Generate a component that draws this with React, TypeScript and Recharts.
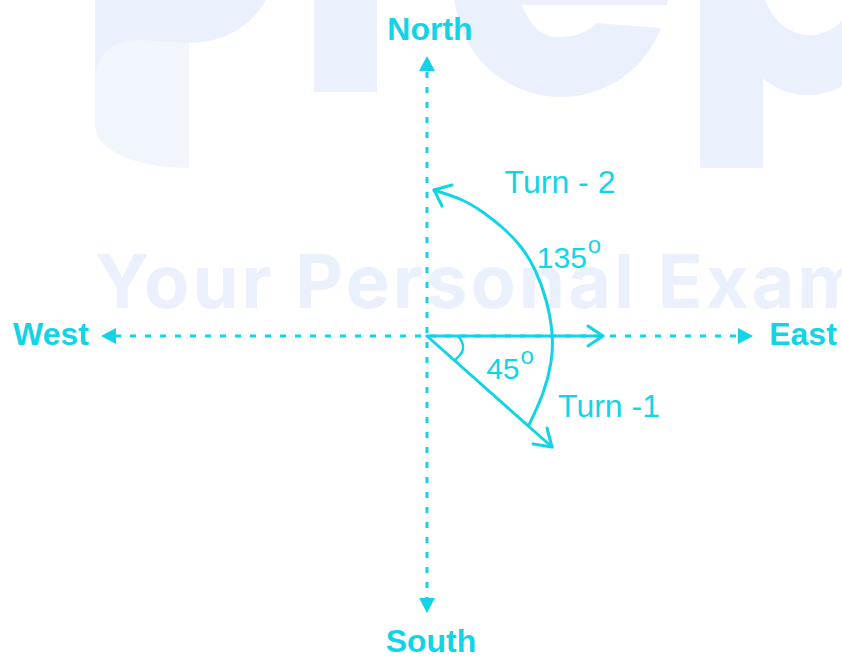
import { ComposedChart, Line, Scatter, XAxis, YAxis } from "recharts";

const W = 842;
const H = 658;
const CYAN = "#13D4E7";
const PALE = "#EAF1FC";
const PALER = "#F1F6FD";

// compass axes (dashed) and their filled arrow tips
const northSouth = [
  { x: 427, y: 72 },
  { x: 427, y: 598 },
];
const westEast = [
  { x: 115, y: 336 },
  { x: 738, y: 336 },
];
const compassTips = [
  { x: 427, y: 56, dir: "up" },
  { x: 427, y: 613, dir: "down" },
  { x: 101, y: 336, dir: "left" },
  { x: 753, y: 336, dir: "right" },
];
const compassLabels = [
  { x: 430, y: 40, text: "North" },
  { x: 431, y: 652, text: "South" },
  { x: 51, y: 345, text: "West" },
  { x: 803, y: 345, text: "East" },
];

// starting ray towards east
const eastRay = [
  { x: 427, y: 336 },
  { x: 603, y: 336 },
];
const eastHead = [
  { x: 588, y: 326 },
  { x: 603, y: 336 },
  { x: 588, y: 346 },
];

// turn 1: 45 degrees clockwise
const turn1Ray = [
  { x: 427, y: 336 },
  { x: 552, y: 447 },
];
const turn1Head = [
  { x: 533, y: 444 },
  { x: 552, y: 447 },
  { x: 547, y: 428 },
];
const angleMark = [
  { x: 458, y: 336 },
  { x: 462, y: 342 },
  { x: 463, y: 349 },
  { x: 460, y: 355 },
  { x: 455, y: 360 },
];

// turn 2: 135 degrees anticlockwise
const turn2Arc = [
  { x: 434, y: 190 },
  { x: 462, y: 200 },
  { x: 484, y: 213 },
  { x: 504, y: 229 },
  { x: 521, y: 247 },
  { x: 535, y: 270 },
  { x: 546, y: 300 },
  { x: 552, y: 333 },
  { x: 551, y: 362 },
  { x: 543, y: 393 },
  { x: 529, y: 425 },
];
const turn2Head = [
  { x: 452, y: 185 },
  { x: 434, y: 190 },
  { x: 442, y: 206 },
];

const turnLabels = [
  { x: 560, y: 193, text: "Turn - 2" },
  { x: 609, y: 417, text: "Turn -1" },
];
const angleLabels = [
  { x: 569, y: 268, text: "135" },
  { x: 510, y: 379, text: "45" },
];

const FONT = "'Liberation Sans', Arial, sans-serif";

const Tip = (props: any) => {
  const { cx, cy, payload } = props;
  const len = 15;
  const half = 8;
  let pts = "";
  if (payload.dir === "up") pts = `${cx},${cy} ${cx - half},${cy + len} ${cx + half},${cy + len}`;
  if (payload.dir === "down") pts = `${cx},${cy} ${cx - half},${cy - len} ${cx + half},${cy - len}`;
  if (payload.dir === "left") pts = `${cx},${cy} ${cx + len},${cy - half} ${cx + len},${cy + half}`;
  if (payload.dir === "right") pts = `${cx},${cy} ${cx - len},${cy - half} ${cx - len},${cy + half}`;
  return <polygon points={pts} fill={CYAN} />;
};

const DirectionText = (props: any) => (
  <text x={props.cx} y={props.cy} textAnchor="middle" fontFamily={FONT} fontWeight={700} fontSize={32} fill={CYAN}>
    {props.payload.text}
  </text>
);

const TurnText = (props: any) => (
  <text x={props.cx} y={props.cy} textAnchor="middle" fontFamily={FONT} fontSize={32} fill={CYAN}>
    {props.payload.text}
  </text>
);

const AngleText = (props: any) => (
  <text x={props.cx} y={props.cy} textAnchor="middle" fontFamily={FONT} fontSize={30} fill={CYAN}>
    {props.payload.text}
    <tspan fontSize={24} dx={1} dy={-15}>o</tspan>
  </text>
);

const Watermark = () => (
  <svg width={W} height={H} style={{ position: "absolute", left: 0, top: 0 }}>
    {/* P */}
    <path d="M95 0 L189 0 L189 168 C135 168 95 150 95 125 Z" fill={PALER} />
    <path d="M95 0 L266 0 C250 28 222 43 189 43 L140 40 C112 40 95 55 95 80 Z" fill={PALE} />
    {/* r */}
    <rect x={314} y={0} width={63} height={92} fill={PALE} />
    {/* e */}
    <ellipse cx={561} cy={-10} rx={107} ry={107} fill={PALE} />
    <path d="M522 5 Q535 40 563 37 Q586 35 596 23 L663 28 L690 5 Z" fill="#fff" />
    {/* p */}
    <ellipse cx={808} cy={-15} rx={86} ry={110} fill={PALE} />
    <ellipse cx={810} cy={-20} rx={48} ry={55} fill="#fff" />
    <rect x={700} y={0} width={63} height={168} fill={PALE} />
    <text x={95} y={308} fontFamily="Inter, 'Noto Sans', sans-serif" fontWeight={700} fontSize={74} fill={PALE} textLength={770} lengthAdjust="spacing">
      Your Personal Exam
    </text>
  </svg>
);

export default function App() {
  const lineCommon = {
    dataKey: "y",
    stroke: CYAN,
    strokeWidth: 3,
    dot: false,
    activeDot: false,
    isAnimationActive: false,
    strokeLinecap: "round" as const,
    strokeLinejoin: "round" as const,
  };
  return (
    <div style={{ position: "fixed", left: 0, top: 0, width: W, height: H, background: "#fff" }}>
      <Watermark />
      <div style={{ position: "absolute", left: 0, top: 0 }}>
        <ComposedChart width={W} height={H} margin={{ top: 0, right: 0, bottom: 0, left: 0 }}>
          <XAxis type="number" dataKey="x" domain={[0, W]} hide allowDataOverflow />
          <YAxis type="number" dataKey="y" domain={[0, H]} reversed hide allowDataOverflow />

          <Line {...lineCommon} data={northSouth} type="linear" strokeDasharray="6 9" strokeLinecap="butt" />
          <Line {...lineCommon} data={westEast} type="linear" strokeDasharray="6 9" strokeLinecap="butt" />
          <Scatter data={compassTips} shape={Tip} isAnimationActive={false} />

          <Line {...lineCommon} data={eastRay} type="linear" />
          <Line {...lineCommon} data={eastHead} type="linear" />

          <Line {...lineCommon} data={turn1Ray} type="linear" />
          <Line {...lineCommon} data={turn1Head} type="linear" />
          <Line {...lineCommon} data={angleMark} type="natural" strokeWidth={2.5} />

          <Line {...lineCommon} data={turn2Arc} type="natural" />
          <Line {...lineCommon} data={turn2Head} type="linear" />

          <Scatter data={compassLabels} shape={DirectionText} isAnimationActive={false} />
          <Scatter data={turnLabels} shape={TurnText} isAnimationActive={false} />
          <Scatter data={angleLabels} shape={AngleText} isAnimationActive={false} />
        </ComposedChart>
      </div>
    </div>
  );
}
